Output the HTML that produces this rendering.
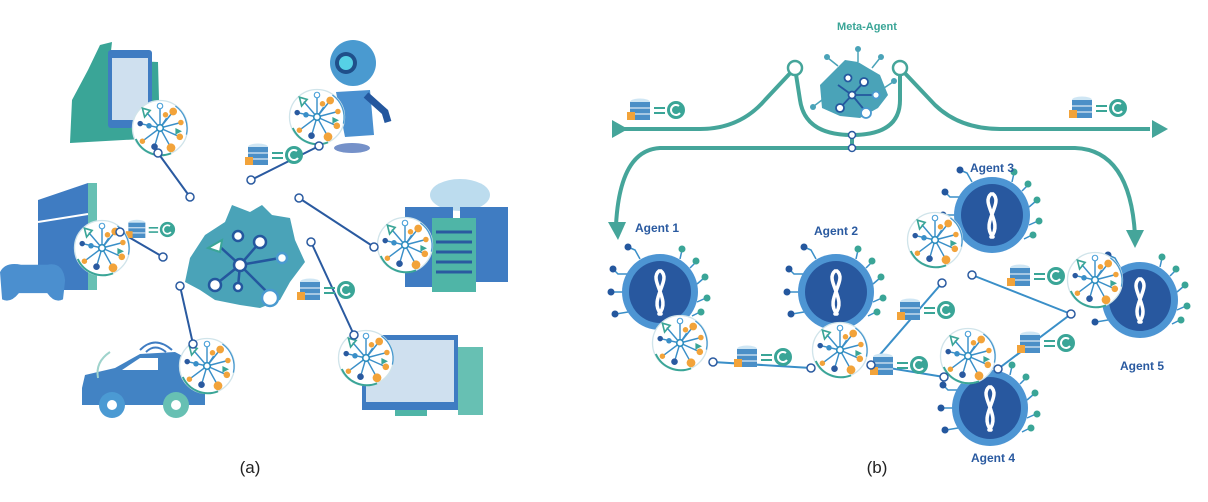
<!DOCTYPE html>
<html><head><meta charset="utf-8"><style>
html,body{margin:0;padding:0;background:#fff;}
svg{display:block;}
text{font-family:"Liberation Sans",sans-serif;}
</style></head><body>
<svg width="1208" height="502" viewBox="0 0 1208 502" xmlns="http://www.w3.org/2000/svg">
<defs>
 <g id="mod0">
  <circle r="25" fill="#fff" stroke="#d0e4ea" stroke-width="1.2"/>
  <path d="M-22,10 A25,25 0 0 0 10,23" stroke="#3aa597" stroke-width="1.8" fill="none"/>
  <path d="M14,-20 A25,25 0 0 1 24,6" stroke="#4a9ad0" stroke-width="1.2" fill="none"/>
  <g stroke="#3a8fc8" stroke-width="1.3">
   <line x1="0" y1="0" x2="0" y2="-20"/><line x1="0" y1="0" x2="12" y2="-15"/>
   <line x1="0" y1="0" x2="19" y2="-5"/><line x1="0" y1="0" x2="18" y2="8"/>
   <line x1="0" y1="0" x2="10" y2="18"/><line x1="0" y1="0" x2="-5" y2="17"/>
   <line x1="0" y1="0" x2="-16" y2="12"/><line x1="0" y1="0" x2="-18" y2="-4"/>
   <line x1="0" y1="0" x2="-12" y2="-14"/><line x1="0" y1="0" x2="6" y2="-9"/>
  </g>
  <circle r="3" fill="#fff" stroke="#2f8fbf" stroke-width="1.5"/>
  <circle cx="0" cy="-20" r="2.5" fill="#fff" stroke="#4aa0d8"/>
  <circle cx="12" cy="-15" r="3.5" fill="#f2a33a"/>
  <circle cx="5" cy="-12" r="2.5" fill="#f2a33a"/>
  <circle cx="18" cy="8" r="3" fill="#f2a33a"/>
  <circle cx="19" cy="-5" r="2.5" fill="#f2a33a"/>
  <circle cx="10" cy="18" r="4" fill="#f2a33a"/>
  <circle cx="-5" cy="17" r="3" fill="#2a5aa0"/>
  <circle cx="-16" cy="12" r="2.5" fill="#f2a33a"/>
  <circle cx="-18" cy="-4" r="2.5" fill="#2a5aa0"/>
  <path d="M-16,-18 L-9,-16 L-14,-10 Z" fill="none" stroke="#3aa597" stroke-width="1.5"/>
  <path d="M14,0 L20,3 L14,6 Z" fill="#3aa597"/>
  <circle cx="-10" cy="-2" r="2.5" fill="#3a8fc8"/>
 </g>
 <g id="mod"><use href="#mod0" transform="scale(1.1)"/></g>
 <g id="agent">
  <g stroke="#3a8fc8" stroke-width="1.5" fill="none">
   <path d="M-20,-33 L-25,-42 L-32,-45"/><path d="M20,-33 L22,-42"/><path d="M30,-24 L36,-30"/>
   <path d="M-32,-18 L-42,-18 L-46,-22"/><path d="M-37,0 L-48,0"/><path d="M-32,20 L-44,22"/>
   <path d="M37,-8 L44,-14"/><path d="M37,10 L46,6"/><path d="M32,24 L40,20"/>
  </g>
  <circle cx="-32" cy="-45" r="3.5" fill="#24579e"/><circle cx="22" cy="-43" r="3.5" fill="#3aa597"/>
  <circle cx="36" cy="-31" r="3.5" fill="#3aa597"/><circle cx="-47" cy="-23" r="3.5" fill="#24579e"/>
  <circle cx="-49" cy="0" r="3.5" fill="#24579e"/><circle cx="-45" cy="22" r="3.5" fill="#24579e"/>
  <circle cx="45" cy="-15" r="3.5" fill="#3aa597"/><circle cx="47" cy="6" r="3.5" fill="#3aa597"/>
  <circle cx="41" cy="20" r="3.5" fill="#3aa597"/>
  <circle r="38" fill="#4d95d3"/>
  <circle r="31" fill="#28589f"/>
  <path d="M-1,-21 C-12,-12 12,8 -1,22 M1,-21 C12,-12 -12,8 1,22" stroke="#fff" stroke-width="3.5" fill="none" stroke-linecap="round"/>
 </g>
 <g id="db">
  <ellipse cx="0" cy="-8" rx="10" ry="3.5" fill="#cfe6f4"/>
  <rect x="-10" y="-8" width="20" height="18" fill="#4b8fc7"/>
  <line x1="-10" y1="-2" x2="10" y2="-2" stroke="#fff"/><line x1="-10" y1="4" x2="10" y2="4" stroke="#fff"/>
  <rect x="-13" y="2" width="8" height="8" fill="#f2a33a"/>
  <path d="M14,-2 L25,-2 M14,3 L25,3" stroke="#3aa597" stroke-width="2"/>
  <circle cx="36" cy="0" r="9" fill="#3aa597"/>
  <path d="M39,-4 A5,5 0 1 0 40,3" stroke="#fff" stroke-width="2" fill="none"/>
 </g>
</defs>

<!-- ===== (a) ===== -->
<g stroke="#2a5aa0" stroke-width="2">
 <line x1="158" y1="153" x2="190" y2="197"/>
 <line x1="319" y1="146" x2="251" y2="180"/>
 <line x1="120" y1="232" x2="163" y2="257"/>
 <line x1="374" y1="247" x2="299" y2="198"/>
 <line x1="193" y1="344" x2="180" y2="286"/>
 <line x1="354" y1="335" x2="311" y2="242"/>
</g>
<!-- phone -->
<path d="M70,143 L72,100 L88,70 L100,45 L112,42 L110,60 L158,62 L160,138 Z" fill="#3aa597"/>
<rect x="108" y="50" width="44" height="78" rx="3" fill="#3f7cc2"/>
<rect x="112" y="58" width="36" height="62" fill="#cfe0ef"/>
<!-- robot -->
<circle cx="353" cy="63" r="23" fill="#4a9ad0"/>
<circle cx="346" cy="63" r="11" fill="#1f4f8a"/><circle cx="346" cy="63" r="7" fill="#56d1e6"/>
<path d="M336,92 L370,90 L374,135 L345,137 Z" fill="#4a90d0"/>
<path d="M366,95 L385,112 L388,122" stroke="#24579e" stroke-width="7" fill="none"/>
<ellipse cx="352" cy="148" rx="18" ry="5" fill="#3b63b2" opacity="0.7"/>
<!-- console -->
<path d="M38,200 L88,183 L88,290 L38,290 Z" fill="#3f7cc2"/>
<rect x="88" y="183" width="9" height="107" fill="#67c0b3"/>
<line x1="38" y1="222" x2="88" y2="214" stroke="#fff" stroke-width="2"/>
<path d="M0,262 Q5,252 20,255 L45,255 Q60,252 62,270 L60,288 Q52,292 45,282 L18,282 Q10,292 2,288 Z" fill="#4b8fcf" transform="translate(0,-3) scale(1.05)"/>
<!-- server -->
<ellipse cx="460" cy="195" rx="30" ry="16" fill="#bcdcee"/>
<rect x="405" y="207" width="48" height="80" fill="#3f7cc2"/>
<rect x="460" y="207" width="48" height="75" fill="#3f7cc2"/>
<rect x="432" y="218" width="44" height="74" fill="#4fb5a7"/>
<g stroke="#2a5aa0" stroke-width="3"><line x1="436" y1="232" x2="472" y2="232"/><line x1="436" y1="242" x2="472" y2="242"/><line x1="436" y1="252" x2="472" y2="252"/><line x1="436" y1="262" x2="472" y2="262"/><line x1="436" y1="272" x2="472" y2="272"/></g>
<!-- car -->
<path d="M82,388 L85,375 L115,368 L140,354 L175,352 L205,368 L205,405 L82,405 Z" fill="#4283c4"/>
<path d="M122,370 L140,358 L158,358 L158,370 Z" fill="#fff"/>
<circle cx="112" cy="405" r="13" fill="#4b9ad3"/><circle cx="112" cy="405" r="5" fill="#fff"/>
<circle cx="176" cy="405" r="13" fill="#67c0b3"/><circle cx="176" cy="405" r="5" fill="#fff"/>
<path d="M140,350 Q155,335 172,350 M146,352 Q155,343 166,352" stroke="#3f7cc2" stroke-width="2" fill="none"/>
<path d="M98,378 Q95,362 110,352" stroke="#9fd3cc" stroke-width="2" fill="none"/>
<!-- computer -->
<rect x="458" y="347" width="25" height="68" fill="#67c0b3"/>
<rect x="362" y="335" width="96" height="75" fill="#3f7cc2"/>
<rect x="366" y="340" width="88" height="62" fill="#cfe0ef"/>
<rect x="395" y="410" width="32" height="6" fill="#4fb5a7"/>
<!-- hub -->
<path d="M205,235 L225,222 L232,205 L250,212 L262,205 L272,215 L290,218 L295,240 L305,262 L290,282 L280,300 L260,308 L240,305 L215,300 L200,290 L185,282 L190,258 Z" fill="#4aa3b8"/>
<g stroke="#24579e" stroke-width="2.5" fill="#fff">
 <line x1="240" y1="265" x2="218" y2="245"/><line x1="240" y1="265" x2="260" y2="242"/><line x1="240" y1="265" x2="215" y2="285"/><line x1="240" y1="265" x2="270" y2="295"/><line x1="240" y1="265" x2="280" y2="258"/><line x1="240" y1="265" x2="238" y2="287"/>
 <circle cx="240" cy="265" r="6"/><circle cx="238" cy="236" r="5"/><circle cx="260" cy="242" r="6"/><circle cx="215" cy="285" r="6"/><circle cx="238" cy="287" r="4"/><circle cx="270" cy="298" r="8" stroke="#4a9ad0"/><circle cx="282" cy="258" r="5" stroke="#4a9ad0"/>
</g>
<path d="M208,248 L222,240 L220,252 Z" fill="#fff" stroke="#3aa597" stroke-width="2"/>
<use href="#db" x="137" y="230" transform="scale(0.85) translate(24,40)"/>
<use href="#db" x="258" y="155"/>
<use href="#db" x="310" y="290"/>
<use href="#mod" x="160" y="128"/><use href="#mod" x="317" y="117"/><use href="#mod" x="102" y="248"/>
<use href="#mod" x="405" y="245"/><use href="#mod" x="207" y="366"/><use href="#mod" x="366" y="358"/>
<g fill="#fff" stroke="#2a5aa0" stroke-width="1.5">
 <circle cx="158" cy="153" r="4"/><circle cx="190" cy="197" r="4"/><circle cx="319" cy="146" r="4"/><circle cx="251" cy="180" r="4"/>
 <circle cx="120" cy="232" r="4"/><circle cx="163" cy="257" r="4"/><circle cx="374" cy="247" r="4"/><circle cx="299" cy="198" r="4"/>
 <circle cx="193" cy="344" r="4"/><circle cx="180" cy="286" r="4"/><circle cx="354" cy="335" r="4"/><circle cx="311" cy="242" r="4"/>
</g>
<text x="250" y="473" font-size="17" text-anchor="middle" fill="#222">(a)</text>

<!-- ===== (b) ===== -->
<g fill="none" stroke="#45a59a" stroke-width="4">
 <path d="M620,129 L700,129 Q740,129 765,100 L795,68"/>
 <path d="M795,68 L800,100 Q805,135 852,135 Q900,135 900,100 L900,68"/>
 <path d="M900,68 L935,105 Q960,129 1000,129 L1150,129"/>
 <path d="M852,135 L852,148"/>
 <path d="M852,148 L660,148 Q620,150 616,225"/>
 <path d="M852,148 L1075,148 Q1130,150 1135,235"/>
</g>
<path d="M612,120 L628,129 L612,138 Z" fill="#45a59a"/>
<path d="M1152,120 L1168,129 L1152,138 Z" fill="#45a59a"/>
<path d="M608,222 L618,240 L626,222 Z" fill="#45a59a"/>
<path d="M1126,230 L1135,248 L1144,230 Z" fill="#45a59a"/>
<circle cx="795" cy="68" r="7" fill="#fff" stroke="#45a59a" stroke-width="2.5"/>
<circle cx="900" cy="68" r="7" fill="#fff" stroke="#45a59a" stroke-width="2.5"/>
<circle cx="852" cy="135" r="3.5" fill="#fff" stroke="#2a5aa0" stroke-width="1.5"/>
<circle cx="852" cy="148" r="3.5" fill="#fff" stroke="#2a5aa0" stroke-width="1.5"/>
<!-- meta agent hub -->
<g stroke="#4aa3b8" stroke-width="1.5" fill="none">
 <path d="M858,62 L858,50"/><path d="M872,68 L880,58"/><path d="M838,66 L828,58"/><path d="M884,88 L893,82"/><path d="M822,100 L814,106"/>
</g>
<g fill="#4aa3b8"><circle cx="858" cy="49" r="3"/><circle cx="881" cy="57" r="3"/><circle cx="827" cy="57" r="3"/><circle cx="894" cy="81" r="3"/><circle cx="813" cy="107" r="3"/></g>
<path d="M820,85 L835,70 L845,60 L858,62 L868,68 L880,75 L888,95 L878,108 L860,118 L840,116 L822,108 Z" fill="#4aa3b8"/>
<g stroke="#24579e" stroke-width="1.8" fill="#fff">
 <line x1="852" y1="95" x2="838" y2="85"/><line x1="852" y1="95" x2="864" y2="82"/><line x1="852" y1="95" x2="840" y2="108"/><line x1="852" y1="95" x2="866" y2="112"/><line x1="852" y1="95" x2="876" y2="95"/>
 <circle cx="852" cy="95" r="3.5"/><circle cx="848" cy="78" r="3.5"/><circle cx="864" cy="82" r="4"/><circle cx="840" cy="108" r="4"/><circle cx="866" cy="113" r="5" stroke="#4a9ad0"/><circle cx="876" cy="95" r="3.5" stroke="#4a9ad0"/>
</g>
<text x="867" y="30" font-size="11" font-weight="bold" fill="#3aa597" text-anchor="middle">Meta-Agent</text>
<use href="#db" x="640" y="110"/>
<use href="#db" x="1082" y="108"/>
<!-- agent links -->
<g stroke="#3a8fc8" stroke-width="2">
 <line x1="713" y1="362" x2="811" y2="368"/>
 <line x1="871" y1="365" x2="942" y2="283"/>
 <line x1="871" y1="365" x2="944" y2="377"/>
 <line x1="972" y1="275" x2="1071" y2="314"/>
 <line x1="998" y1="369" x2="1071" y2="314"/>
</g>
<use href="#agent" x="660" y="292"/>
<use href="#agent" x="836" y="292"/>
<use href="#agent" x="992" y="215"/>
<use href="#agent" x="990" y="408"/>
<use href="#agent" x="1140" y="300"/>
<use href="#mod" x="680" y="343"/>
<use href="#mod" x="840" y="350"/>
<use href="#mod" x="935" y="240"/>
<use href="#mod" x="968" y="356"/>
<use href="#mod" x="1095" y="280"/>
<use href="#db" x="747" y="357"/>
<use href="#db" x="883" y="365"/>
<use href="#db" x="1020" y="276"/>
<use href="#db" x="910" y="310"/>
<use href="#db" x="1030" y="343"/>
<g fill="#fff" stroke="#2a5aa0" stroke-width="1.5">
 <circle cx="713" cy="362" r="4"/><circle cx="811" cy="368" r="4"/><circle cx="871" cy="365" r="4"/><circle cx="942" cy="283" r="4"/>
 <circle cx="944" cy="377" r="4"/><circle cx="972" cy="275" r="4"/><circle cx="1071" cy="314" r="4"/><circle cx="998" cy="369" r="4"/>
</g>
<g font-size="12" font-weight="bold" fill="#2a5aa0" text-anchor="middle">
 <text x="657" y="232">Agent 1</text>
 <text x="836" y="235">Agent 2</text>
 <text x="992" y="172">Agent 3</text>
 <text x="993" y="462">Agent 4</text>
 <text x="1142" y="370">Agent 5</text>
</g>
<text x="877" y="473" font-size="17" text-anchor="middle" fill="#222">(b)</text>
</svg>
</body></html>
